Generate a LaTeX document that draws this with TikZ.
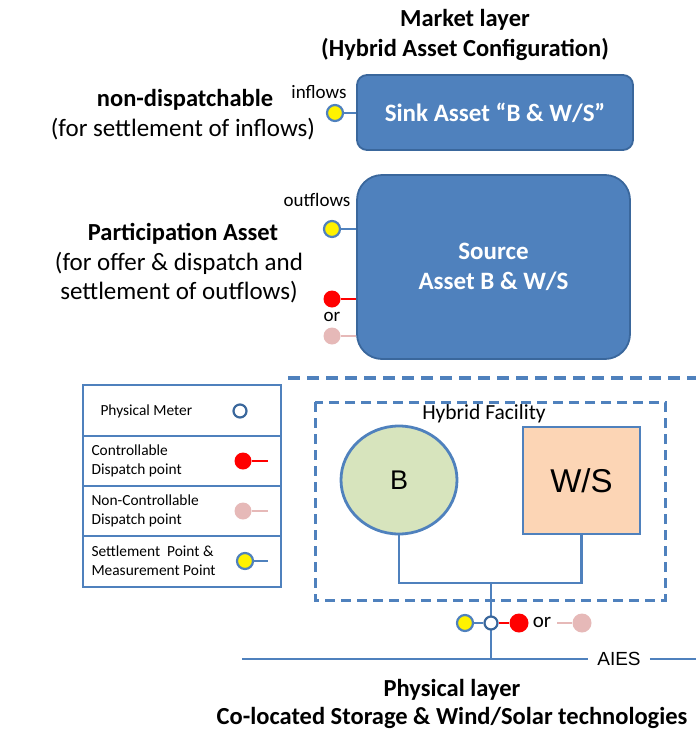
\documentclass[tikz,border=0pt]{standalone}
\usepackage{fontspec}
\setmainfont{Carlito}
\newfontfamily\arialFam{Liberation Sans}
\usepackage{xcolor}
\usepackage{tikz}
\usetikzlibrary{positioning,shapes.geometric,calc}
\definecolor{azul}{HTML}{4F81BD}
\definecolor{azulEsc}{HTML}{3A679C}
\definecolor{rosa}{HTML}{E6B9B8}
\definecolor{verdeB}{HTML}{D7E4BD}
\definecolor{pessego}{HTML}{FCD5B5}
\tikzset{
    ativo/.style={
        rectangle,
        draw=azulEsc,
        fill=azul,
        line width=1.8pt,
        text=white,
        align=center,
        font=\fontsize{25}{30}\selectfont\bfseries
    },
    titulo/.style={align=center, font=\fontsize{24.5}{29}\selectfont\bfseries},
    rotulo/.style={align=center, font=\fontsize{25}{29}\selectfont},
    pequeno/.style={font=\fontsize{19}{22}\selectfont},
    legenda/.style={align=left, anchor=west, font=\fontsize{15.4}{19}\selectfont},
    liq/.style={circle, draw=azul, fill=yellow, line width=2.2pt, minimum size=16pt, inner sep=0pt},
    desp/.style={circle, fill=red, minimum size=17pt, inner sep=0pt},
    naoDesp/.style={circle, fill=rosa, minimum size=17pt, inner sep=0pt},
    medidor/.style={circle, draw=azulEsc, fill=white, line width=2.2pt, minimum size=13pt, inner sep=0pt},
    fio/.style={azul, line width=2.8pt},
    fioVerm/.style={red, line width=2.8pt},
    fioRosa/.style={rosa, line width=2.8pt},
    tracejado/.style={azul, line width=3.4pt, dash pattern=on 12pt off 7pt},
    caixaLeg/.style={draw=azul, line width=2.8pt}
}

\begin{document}
\begin{tikzpicture}[x=1pt, y=-1pt]
    \useasboundingbox (0,0) rectangle (696,731);

    % camada de mercado
    \node[titulo, font=\fontsize{24.5}{30}\selectfont\bfseries] (mercado) at (465,35) {Market layer\\(Hybrid Asset Configuration)};
    \node[ativo, minimum width=276pt, minimum height=75pt, rounded corners=10pt] (sink)
        at (495,112.5) {Sink Asset “B \& W/S”};
    \node[ativo, minimum width=273pt, minimum height=184pt, rounded corners=25pt] (source)
        at (493.5,267) {Source\\Asset B \& W/S};

    \node[titulo] (naoDespTit) at (185,100) {non-dispatchable};
    \node[rotulo] (naoDespTxt) at (183,129) {(for settlement of inflows)};
    \node[titulo] (partTit) at (183,234) {Participation Asset};
    \node[rotulo] (partTxt) at (179,277.5) {(for offer \& dispatch and\\settlement of outflows)};

    % pontos do lado do mercado
    \node[pequeno] (inflows) at (319,92) {inflows};
    \node[liq] (inL) at (335,113) {};
    \draw[fio] (inL) -- (sink.west |- inL);

    \node[pequeno] (outflows) at (317,200) {outflows};
    \node[liq] (outL) at (332,229) {};
    \draw[fio] (outL) -- (source.west |- outL);
    \node[desp] (outD) at (332,299) {};
    \draw[fioVerm] (outD) -- (source.west |- outD);
    \node[pequeno] (ou1) at (332,317) {or};
    \node[naoDesp] (outN) at (332,336) {};
    \draw[fioRosa] (outN) -- (source.west |- outN);

    % legenda
    \draw[caixaLeg] (83,385) rectangle (281,436);
    \draw[caixaLeg] (83,436) rectangle (281,486);
    \draw[caixaLeg] (83,486) rectangle (281,536);
    \draw[caixaLeg] (83,536) rectangle (281,587);
    \node[legenda] (legMed) at (97,411) {Physical Meter};
    \node[medidor] (simMed) at (240,411) {};
    \node[legenda] (legDesp) at (88,461) {Controllable\\Dispatch point};
    \node[desp] (simDesp) at (243,461) {};
    \coordinate (fimDesp) at (268,461);
    \draw[fioVerm] (simDesp) -- (fimDesp);
    \node[legenda] (legNao) at (88,511) {Non-Controllable\\Dispatch point};
    \node[naoDesp] (simNao) at (243,511) {};
    \coordinate (fimNao) at (268,511);
    \draw[fioRosa] (simNao) -- (fimNao);
    \node[legenda] (legLiq) at (88,561) {Settlement\ \ Point \&\\Measurement Point};
    \node[liq] (simLiq) at (245,561) {};
    \coordinate (fimLiq) at (268,561);
    \draw[fio] (simLiq) -- (fimLiq);

    % camada fisica
    \coordinate (tracoIni) at (288,378);
    \coordinate (tracoFim) at (696,378);
    \draw[tracejado] (tracoIni) -- (tracoFim);
    \draw[azul, line width=3pt, dash pattern=on 10pt off 6pt] (315,402) rectangle (665,600);
    \node[font=\fontsize{21.5}{25}\selectfont] (hibrido) at (484,414) {Hybrid Facility};

    \node[ellipse, draw=azul, fill=verdeB, line width=2.8pt, minimum width=116pt, minimum height=108pt,
        font=\arialFam\fontsize{27}{30}\selectfont] (bat) at (399,480) {B};
    \node[rectangle, draw=azul, fill=pessego, line width=2.8pt, minimum width=117pt, minimum height=107pt,
        font=\arialFam\fontsize{33}{40}\selectfont] (ws) at (581.5,480.5) {W/S};
    \coordinate (juncB) at (399,583);
    \coordinate (junc) at (491,583);
    \draw[fio] (bat.south) -- (juncB) -| (ws.south);

    \coordinate (barraIni) at (242,659);
    \coordinate (barraFim) at (696,659);
    \coordinate (barraJ) at (491,659);
    \node[font=\arialFam\fontsize{19}{23}\selectfont, fill=white, inner xsep=9pt] (aies) at (619,659) {AIES};
    \draw[fio] (barraIni) -- (aies.west);
    \draw[fio] (aies.east) -- (barraFim);
    \draw[fio] (junc) -- (barraJ);

    \node[medidor] (med) at (491,623) {};
    \node[liq] (liqB) at (465,623) {};
    \node[desp, minimum size=19pt] (despB) at (519,623) {};
    \node[font=\fontsize{21}{24}\selectfont] (ou2) at (542,622) {or};
    \node[naoDesp, minimum size=19pt] (naoB) at (582,623) {};
    \coordinate (naoIni) at (557,623);
    \draw[fio] (liqB) -- (med);
    \draw[fioVerm] (med) -- (despB);
    \draw[fioRosa] (naoIni) -- (naoB);

    \node[titulo, font=\fontsize{24.5}{28}\selectfont\bfseries] (fisico) at (452,704) {Physical layer\\Co-located Storage \& Wind/Solar technologies};
\end{tikzpicture}
\end{document}
